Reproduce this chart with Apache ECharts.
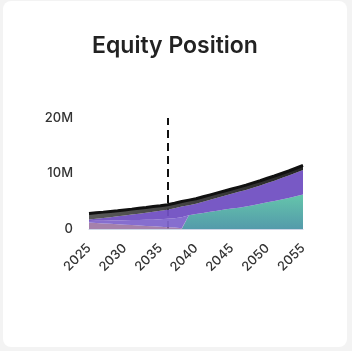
<!DOCTYPE html>
<html>
<head>
<meta charset="utf-8">
<script src="https://cdn.jsdelivr.net/npm/echarts@6/dist/echarts.min.js"></script>
<style>
    html, body { margin: 0; padding: 0; background: #f3f3f3; }
    .card {
        position: absolute; left: 3px; top: 1px; width: 344px; height: 346px;
        background: #fff; border-radius: 8px;
    }
    .echarts { width: 100%; height: 100%; }
</style>
</head>
<body>
<div class="card"><div id="chart" class="echarts"></div></div>
<script>
    // 数据（单位：百万）
    var years = [];
    for (var y = 2025; y <= 2055; y++) years.push(String(y));

    var teal     = [0,0,0,0,0,0,0,0,0,0,0,0,0,0,2.50,2.70,2.90,3.10,3.30,3.50,3.70,3.85,4.05,4.30,4.55,4.80,5.05,5.30,5.60,5.90,6.20];
    var pink     = [1.15,1.08,1.00,0.93,0.85,0.78,0.70,0.63,0.55,0.48,0.40,0.33,0.25,0.15,0,0,0,0,0,0,0,0,0,0,0,0,0,0,0,0,0];
    var lavender = [0.30,0.40,0.50,0.60,0.70,0.80,0.90,1.00,1.10,1.20,1.35,1.50,1.70,1.95,0,0,0,0,0,0,0,0,0,0,0,0,0,0,0,0,0];
    var purple   = [0.25,0.36,0.48,0.60,0.73,0.86,1.00,1.14,1.29,1.44,1.54,1.64,1.80,1.95,1.80,1.86,2.01,2.17,2.32,2.48,2.63,2.84,2.99,3.15,3.30,3.51,3.66,3.87,4.02,4.23,4.43];
    var gray     = [1.10,1.08,1.06,1.04,1.02,1.00,0.98,0.96,0.94,0.92,0.91,0.90,0.90,0.90,0.90,0.89,0.89,0.88,0.88,0.87,0.87,0.86,0.86,0.85,0.85,0.84,0.84,0.83,0.83,0.82,0.82];
    var retireYear = '2036';

    var chart = echarts.init(document.getElementById('chart'));

    function area(name, data, color, extra) {
        var s = {
            name: name,
            type: 'line',
            stack: 'total',
            data: data,
            symbol: 'none',
            lineStyle: { width: 0 },
            areaStyle: { color: color, opacity: 0.95 },
            z: 2
        };
        for (var k in extra) s[k] = extra[k];
        return s;
    }

    var option = {
        animation: false,
        title: {
            text: 'Equity Position',
            left: 'center',
            top: 29,
            textStyle: { fontFamily: 'Inter', fontSize: 23, fontWeight: 600, color: '#222' }
        },
        grid: { left: 86, right: 44, top: 117, bottom: 118 },
        xAxis: {
            type: 'category',
            data: years,
            boundaryGap: false,
            axisLine: { lineStyle: { color: '#cdd6e6' } },
            axisTick: { show: false },
            axisLabel: {
                interval: 4, rotate: 45, margin: 17,
                fontFamily: 'Inter', fontSize: 13, fontWeight: 500, color: '#333'
            }
        },
        yAxis: {
            type: 'value',
            min: 0, max: 20, interval: 10,
            splitLine: { show: false },
            axisLabel: {
                margin: 16, fontFamily: 'Inter', fontSize: 13, fontWeight: 500, color: '#333',
                formatter: function (v) { return v === 0 ? '0' : v + 'M'; }
            }
        },
        series: [
            {
                // 退休年份虚线，放在面积图下方
                name: 'Marker',
                type: 'line',
                data: [],
                z: 1,
                markLine: {
                    silent: true,
                    z: 1,
                    symbol: 'none',
                    label: { show: false },
                    lineStyle: { color: '#111', type: [8, 5], width: 2 },
                    data: [{ xAxis: retireYear }]
                }
            },
            area('Teal', teal, new echarts.graphic.LinearGradient(0, 0, 0, 1, [
                { offset: 0, color: '#5cc2a6' }, { offset: 1, color: '#4b95a6' }
            ])),
            area('Pink', pink, '#a07aa6'),
            area('Lavender', lavender, '#7f66cc'),
            area('Purple', purple, '#7150c2'),
            area('Gray', gray, new echarts.graphic.LinearGradient(0, 0, 1, 0, [
                { offset: 0, color: '#505050' }, { offset: 1, color: '#1a1a1a' }
            ]), { lineStyle: { width: 3, color: '#111' } })
        ]
    };
    chart.setOption(option);
</script>
</body>
</html>
